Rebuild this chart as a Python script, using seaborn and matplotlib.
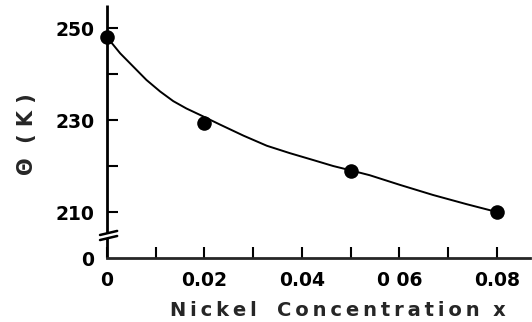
import matplotlib
matplotlib.use("Agg")
import matplotlib.pyplot as plt
import seaborn as sns
import pandas as pd

# Measured Debye temperature vs nickel content
conc = [0.0, 0.02, 0.05, 0.08]
theta = [248.0, 229.3, 219.0, 210.0]

# Smooth guide curve drawn through the data
curve_x = [0.0, 0.0027, 0.0054, 0.0081, 0.0109, 0.0136, 0.0163, 0.0191,
           0.0232, 0.0280, 0.0328, 0.0375, 0.0423, 0.0464, 0.0502, 0.0539,
           0.0601, 0.0669, 0.0738, 0.08]
curve_y = [248.0, 244.5, 241.6, 238.7, 236.2, 234.1, 232.5, 231.1,
           229.0, 226.6, 224.4, 222.8, 221.3, 220.0, 219.0, 218.0,
           215.9, 213.7, 211.7, 210.0]

# Axis ticks (y axis is broken: bottom of axis stands for 0)
x_ticks = [0.0, 0.01, 0.02, 0.03, 0.04, 0.05, 0.06, 0.07, 0.08]
x_labels = ["0", "", "0.02", "", "0.04", "", "0 06", "", "0.08"]
y_ticks = [200, 210, 220, 230, 240, 250]
y_labels = ["0", "210", "", "230", "", "250"]

sns.set_style("ticks")
plt.rcParams["font.family"] = ["DejaVu Sans"]
plt.rcParams["font.weight"] = "bold"

fig = plt.figure(figsize=(5.32, 3.22), dpi=100)
ax = fig.add_axes([107 / 532, 64 / 322, 423 / 532, 253 / 322])

df_pts = pd.DataFrame({"x": conc, "y": theta})
df_curve = pd.DataFrame({"x": curve_x, "y": curve_y})

sns.lineplot(data=df_curve, x="x", y="y", ax=ax, color="black",
             linewidth=1.4, sort=True, estimator=None)
ax.lines[-1].set_solid_joinstyle("round")
sns.scatterplot(data=df_pts, x="x", y="y", ax=ax, color="black", s=110,
                edgecolor="black", linewidth=0, zorder=5, clip_on=False)

ax.set_xlim(0, 0.0868)
ax.set_ylim(200, 255)

ax.set_xticks(x_ticks)
ax.set_xticklabels(x_labels)
ax.set_yticks(y_ticks)
ax.set_yticklabels(y_labels)
ax.tick_params(axis="both", direction="in", length=8, width=1.5,
               labelsize=13.5, colors="black")
ax.tick_params(axis="x", pad=9)
ax.tick_params(axis="y", pad=9)
ax.yaxis.get_major_ticks()[0].tick1line.set_visible(False)

for lab in ax.get_xticklabels() + ax.get_yticklabels():
    lab.set_fontweight("bold")

sns.despine(ax=ax)
ax.spines["bottom"].set_linewidth(2)
ax.spines["left"].set_visible(False)

# Left axis drawn in two pieces with a break
tr = ax.transAxes
ax.plot([0, 0], [0, 0.079], transform=tr, color="black", lw=2,
        clip_on=False, solid_capstyle="butt")
ax.plot([0, 0], [0.099, 1.0], transform=tr, color="black", lw=2,
        clip_on=False, solid_capstyle="butt")
for yc in (0.079, 0.099):
    ax.plot([-0.0165, 0.024], [yc - 0.008, yc + 0.008], transform=tr,
            color="black", lw=1.8, clip_on=False)

# Letter-spaced axis title
thin = "\u2009"
spaced = "   ".join(thin.join(word) for word in ["Nickel", "Concentration"])
ax.set_xlabel(spaced + "  x", fontsize=14, fontweight="bold")
ax.xaxis.set_label_coords(0.545, -0.17)
ax.set_ylabel("Θ  ( K )", fontsize=15, fontweight="heavy")
ax.yaxis.set_label_coords(-0.166, 0.49)

fig.savefig("out.png", dpi=100)
